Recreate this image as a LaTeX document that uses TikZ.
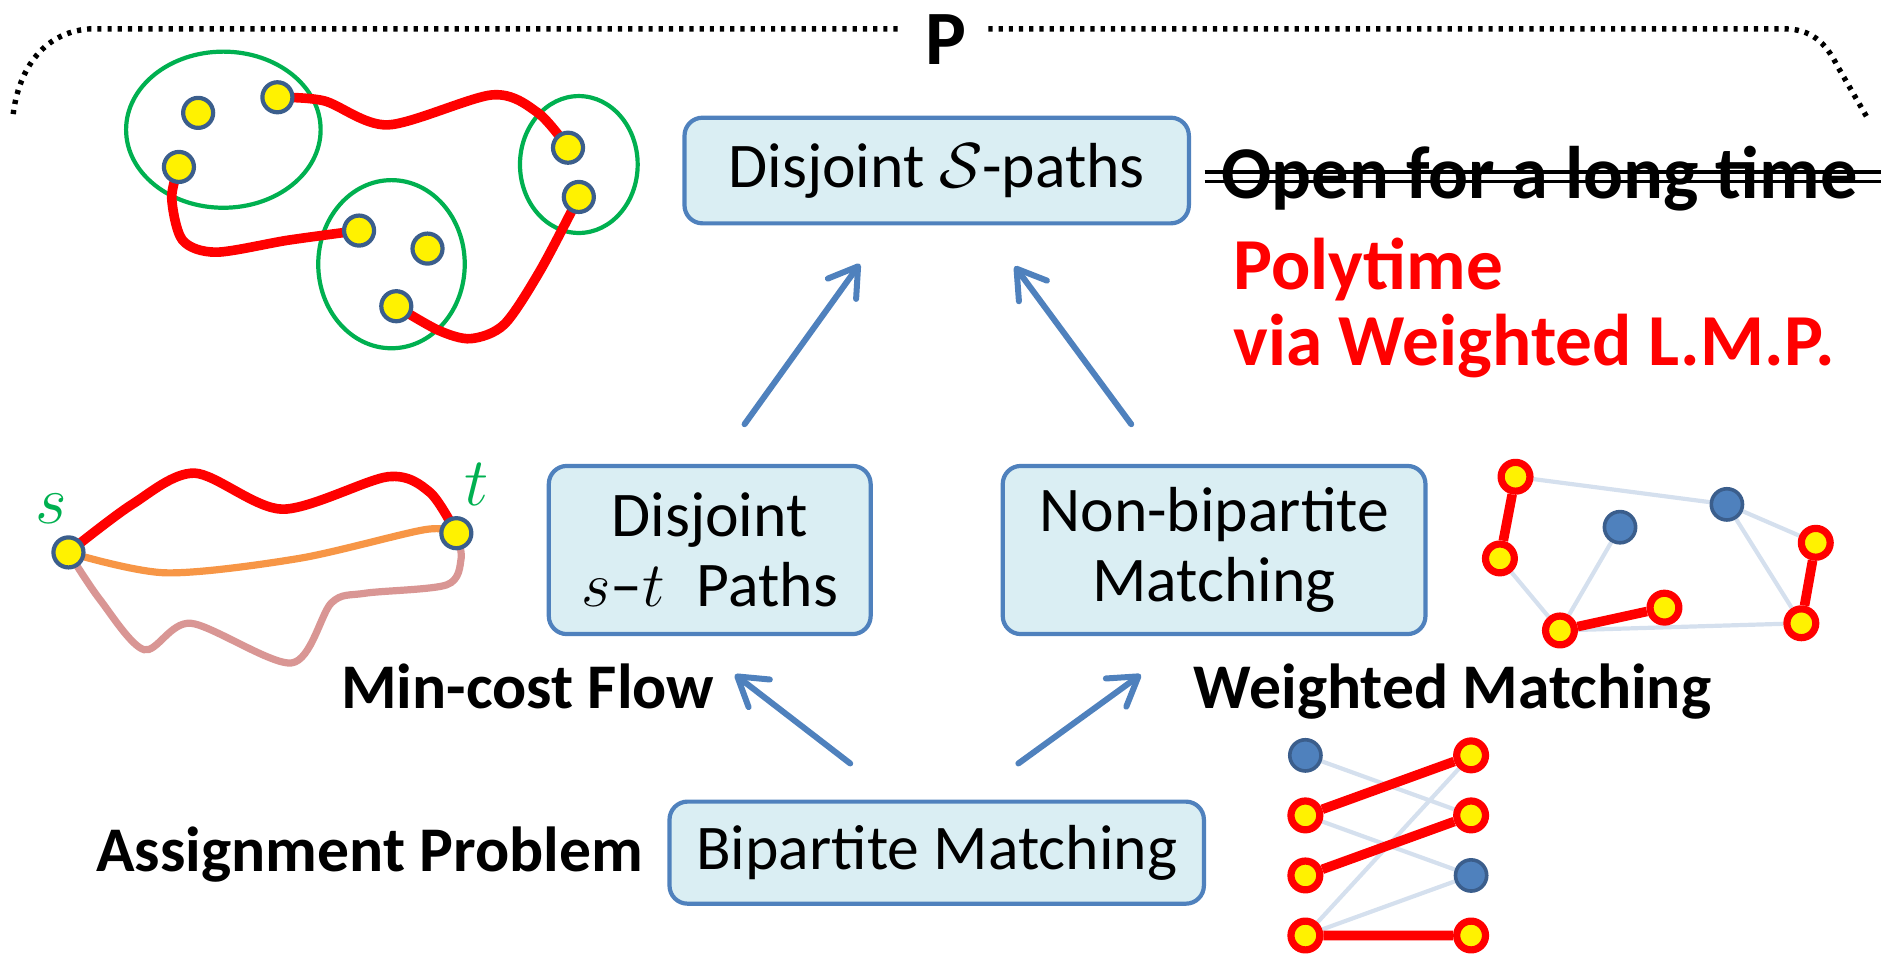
\RequirePackage{fix-cm}
\documentclass[tikz,border=0pt]{standalone}
\usepackage{fontspec}
\setmainfont{Carlito}
\usetikzlibrary{arrows.meta,backgrounds,calc}
\definecolor{boxfill}{HTML}{DAEEF3}
\definecolor{boxline}{HTML}{4F81BD}
\definecolor{setgreen}{HTML}{00B050}
\definecolor{nodeline}{HTML}{3B5E8C}
\definecolor{pathorange}{HTML}{F79646}
\definecolor{pathpink}{HTML}{D99694}
\definecolor{paleedge}{HTML}{D5E0EE}
\tikzset{
  probbox/.style={draw=boxline, fill=boxfill, line width=3.5pt, rounded corners=15pt, align=center, inner sep=0pt, font=\fontsize{53}{58}\selectfont},
  reduce/.style={draw=boxline, line width=5pt, line cap=round, -{Straight Barb[length=23pt,width=29pt,round]}},
  vtx/.style={circle, draw=nodeline, fill=yellow, line width=3.5pt, minimum size=25pt, inner sep=0pt},
  matched/.style={circle, draw=red, fill=yellow, line width=6pt, minimum size=24pt, inner sep=0pt},
  free/.style={circle, draw=nodeline, fill=boxline, line width=3pt, minimum size=26pt, inner sep=0pt},
  bigtxt/.style={anchor=base west, inner sep=0pt, font=\fontsize{53}{58}\selectfont\bfseries},
  brace/.style={line width=4.5pt, dash pattern=on 3.5pt off 5pt},
}
\begin{document}
\begin{tikzpicture}[x=1pt, y=-1pt, line join=round]
\useasboundingbox (0,0) rectangle (1568,794);
\def\rw{8pt}
% problem boxes
\node[probbox, minimum width=420pt, minimum height=88pt] (dsp) at (780,142) {Disjoint $\mathcal{S}$-paths};
\node[probbox, minimum width=268pt, minimum height=140pt] (stp) at (591,458) {Disjoint\\$s$--$t$\enspace Paths};
\node[probbox, minimum width=352pt, minimum height=140pt] (nbm) at (1011,458) {Non-bipartite\\Matching};
\node[probbox, minimum width=445pt, minimum height=85pt] (bpm) at (780,710) {Bipartite Matching};
\draw[reduce] ($(stp.north)+(29,-33)$) -- ($(dsp.south)+(-64,32)$);
\draw[reduce] ($(nbm.north)+(-69,-33)$) -- ($(dsp.south)+(65,34)$);
\draw[reduce] ($(bpm.north)+(-72,-30)$) -- ($(stp.south)+(21,32)$);
\draw[reduce] ($(bpm.north)+(68,-30)$) -- ($(nbm.south)+(-61,32)$);
% class P
\node[inner sep=0pt, font=\fontsize{64}{64}\selectfont\bfseries] (cls) at (788,33) {P};
\draw[brace] (11,95) .. controls (15,62) and (33,27) .. (75,24) -- (750,24);
\draw[brace] (823,24) -- (1485,24) .. controls (1508,24) and (1520,35) .. (1530,55) -- (1556,100);
\node[bigtxt, font=\fontsize{62}{62}\selectfont\bfseries] (open) at (1017,165) {Open for a long time};
\draw[line width=3pt] (1003,143) -- (1566,143) (1003,151) -- (1566,151);
\node[bigtxt, text=red, font=\fontsize{61}{61}\selectfont\bfseries] (poly) at (1027,241) {Polytime};
\node[bigtxt, text=red, font=\fontsize{61}{61}\selectfont\bfseries] (via) at (1027,304) {via Weighted L.M.P.};
\node[bigtxt] (mcf) at (284,590) {Min-cost Flow};
\node[bigtxt] (wm) at (994,590) {Weighted Matching};
\node[bigtxt] (ap) at (80,726) {Assignment Problem};
% S-paths
\foreach \n/\x/\y in {a1/165/94, a2/231/81, a3/149/139, b1/473/123, b2/482/164, c1/299/192, c2/356/207, c3/330/255}
  \node[vtx] (\n) at (\x,\y) {};
\begin{scope}[on background layer]
  \draw[setgreen, line width=3.5pt] (186,108) ellipse [x radius=81pt, y radius=65pt];
  \draw[setgreen, line width=3.5pt] (482,137) ellipse [x radius=49pt, y radius=57pt];
  \draw[setgreen, line width=3.5pt] (326,220) ellipse [x radius=61pt, y radius=70pt];
  \draw[red, line width=\rw] plot[smooth] coordinates {(a2.center) (270,84) (323,104) (410,79) (448,94) (b1.center)};
  \draw[red, line width=\rw] plot[smooth] coordinates {(a3.center) (143,165) (152,200) (180,210) (240,200) (c1.center)};
  \draw[red, line width=\rw] plot[smooth] coordinates {(c3.center) (365,275) (392,282) (420,270) (450,225) (b2.center)};
\end{scope}
% s-t paths
\node[vtx] (s) at (57,460) {};
\node[vtx] (t) at (380,444) {};
\node[anchor=base, inner sep=0pt, text=setgreen, font=\fontsize{57}{57}\selectfont] (slab) at (43,436) {$s$};
\node[anchor=base, inner sep=0pt, text=setgreen, font=\fontsize{57}{57}\selectfont] (tlab) at (397,421) {$t$};
\begin{scope}[on background layer]
  \draw[pathpink, line width=6pt] plot[smooth] coordinates {(s.center) (83,499) (120,541) (159,519) (243,552) (276,502) (304,494) (372,487) (384,465) (t.center)};
  \draw[pathorange, line width=6pt] plot[smooth] coordinates {(s.center) (138,477) (249,465) (354,441) (t.center)};
  \draw[red, line width=\rw] plot[smooth] coordinates {(s.center) (110,420) (162,394) (235,424) (323,397) (358,410) (t.center)};
\end{scope}
% weighted matching
\foreach \n/\x/\y in {r1/1262/397, r2/1249/465, r3/1512/452, r4/1500/519, r5/1299/525, r6/1386/506}
  \node[matched] (\n) at (\x,\y) {};
\node[free] (f1) at (1349,439) {};
\node[free] (f2) at (1438,420) {};
\begin{scope}[on background layer]
  \draw[paleedge, line width=3.5pt] (r1) -- (f2) -- (r3) (f2) -- (r4) -- (r5) -- (r2) (r5) -- (f1);
  \draw[red, line width=\rw] (r1) -- (r2) (r5) -- (r6) (r3) -- (r4);
\end{scope}
% bipartite matching
\node[free] (l1) at (1087,629) {};
\foreach \n/\y in {l2/679, l3/729, l4/779}
  \node[matched] (\n) at (1087,\y) {};
\foreach \n/\y in {m1/629, m2/679, m4/779}
  \node[matched] (\n) at (1225,\y) {};
\node[free] (m3) at (1225,729) {};
\node[free] (f5) at (1538,809) {};
\begin{scope}[on background layer]
  \draw[paleedge, line width=3.5pt] (l1) -- (m2) (l2) -- (m3) (l4) -- (m1) (l4) -- (m3);
  \draw[red, line width=\rw] (l2) -- (m1) (l3) -- (m2) (l4) -- (m4);
\end{scope}
\end{tikzpicture}
\end{document}
